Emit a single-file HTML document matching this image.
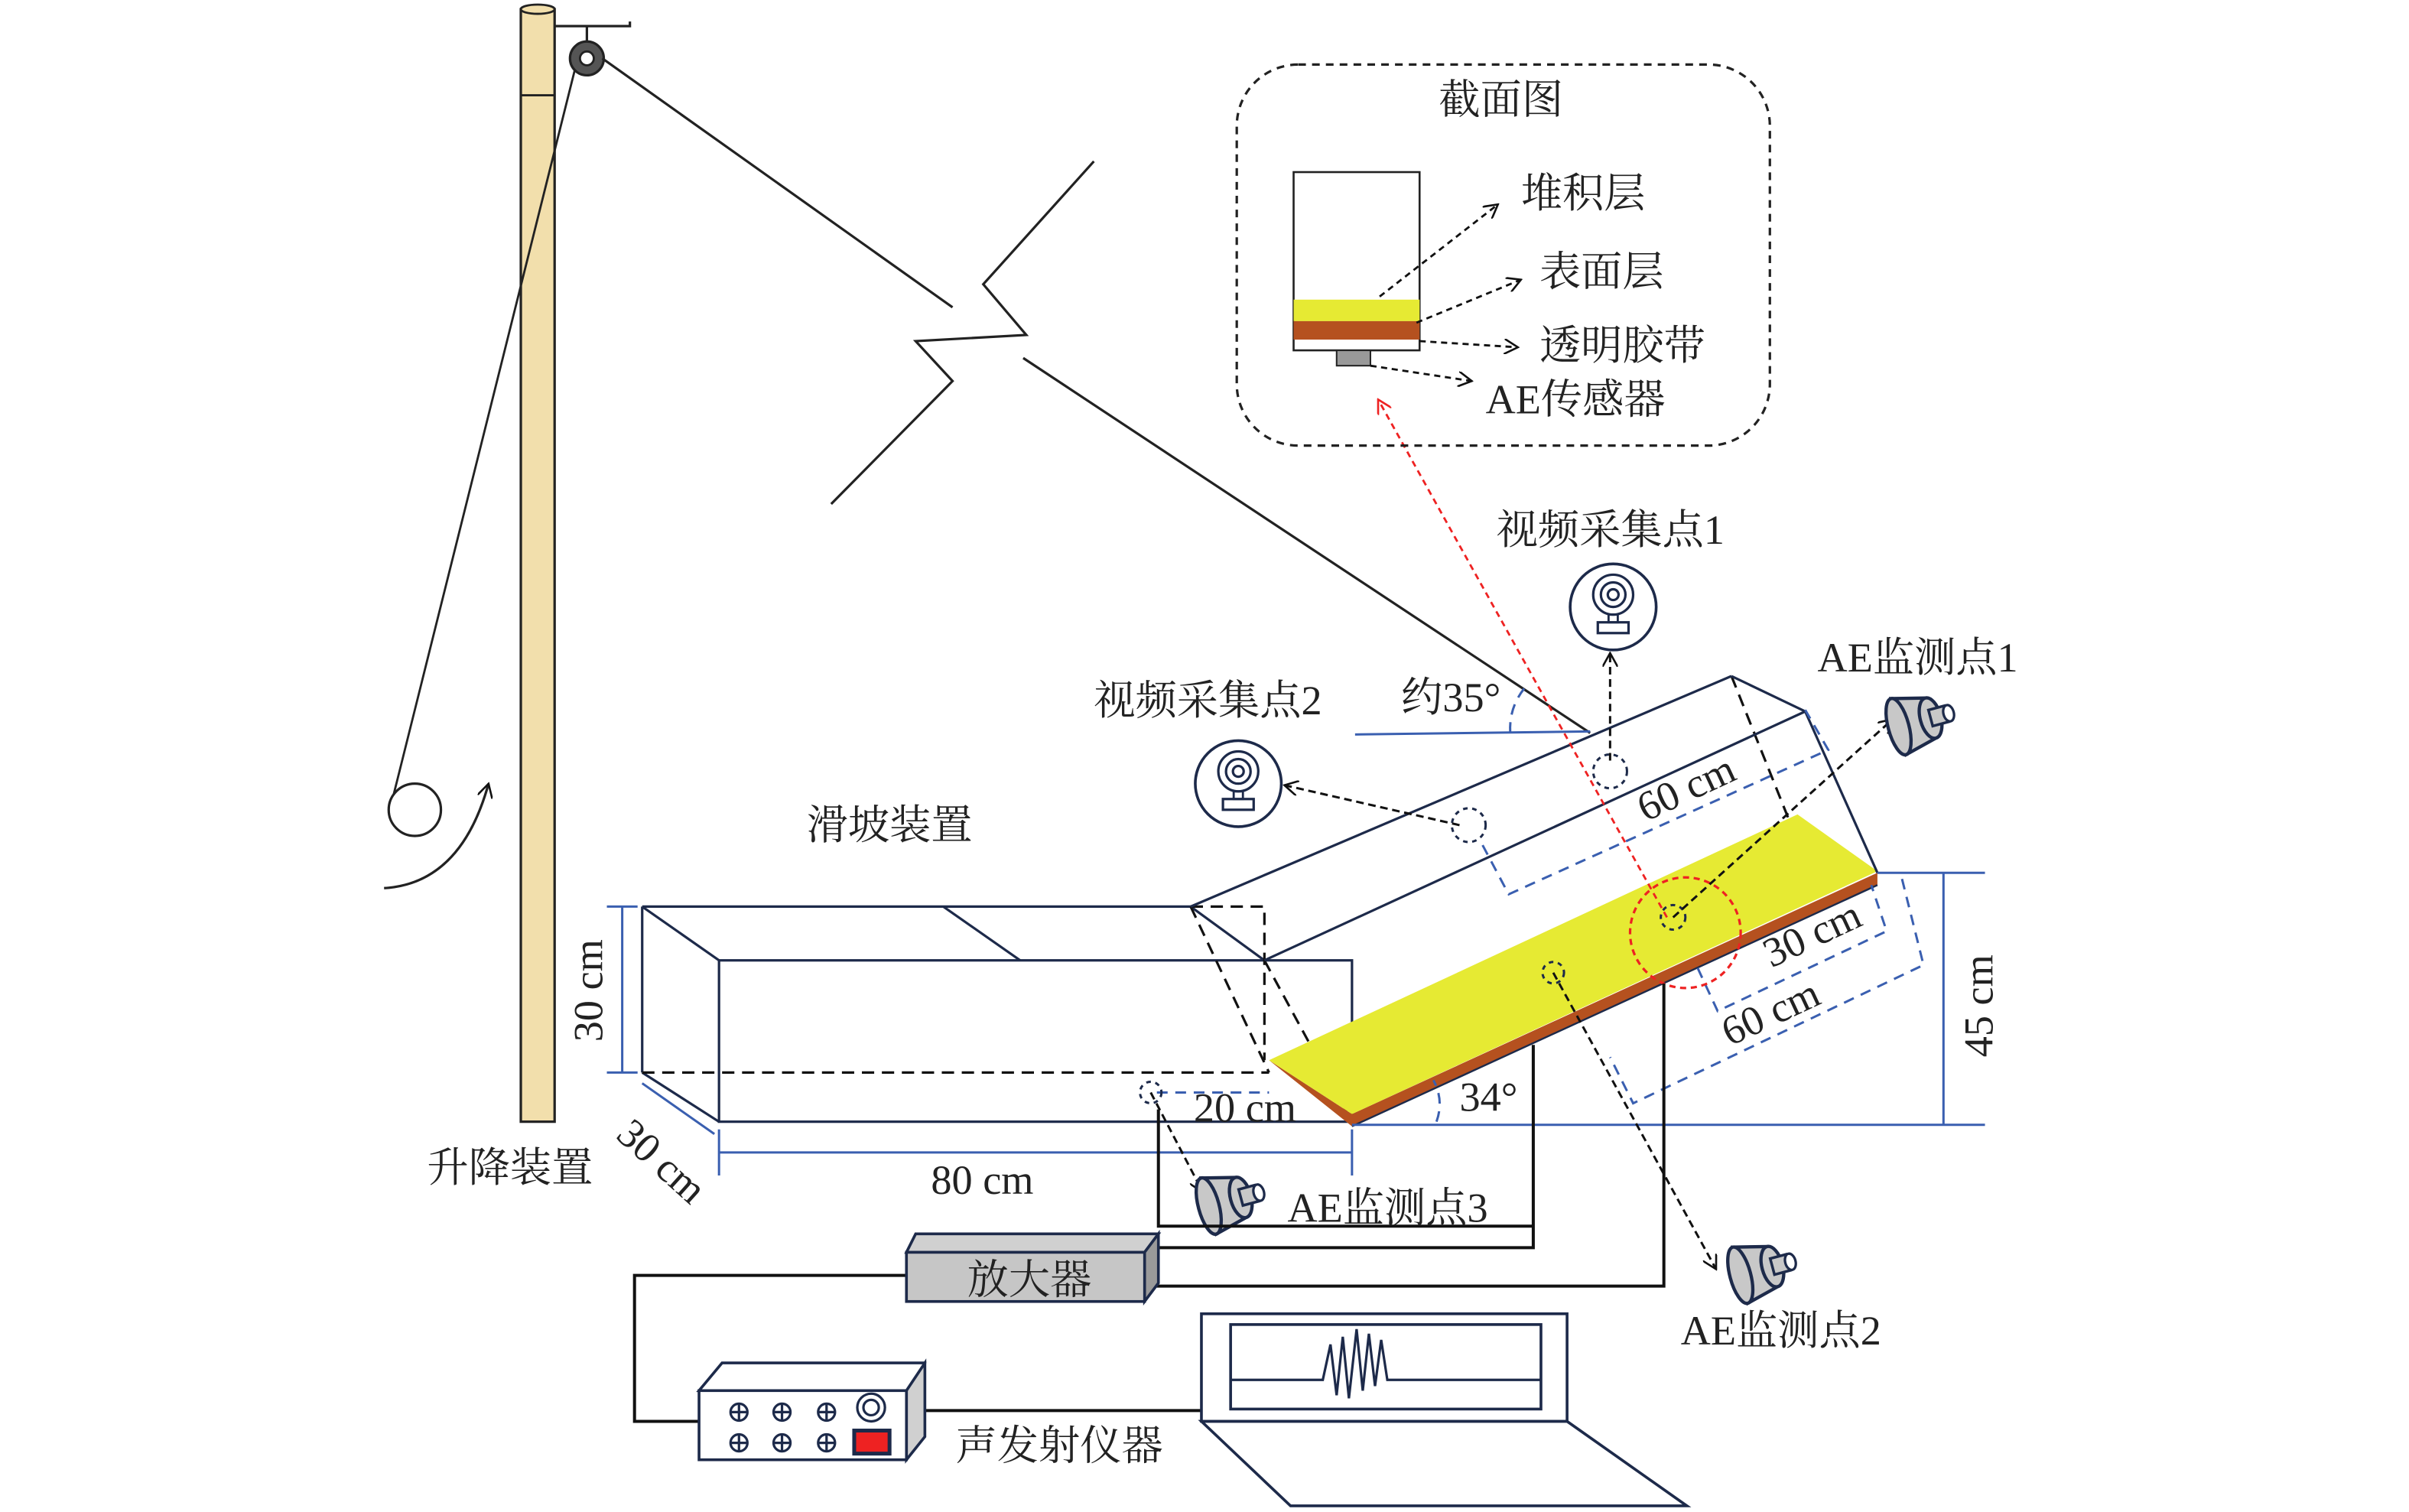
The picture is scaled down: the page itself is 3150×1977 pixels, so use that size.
<!DOCTYPE html>
<html><head><meta charset="utf-8"><style>html,body{margin:0;padding:0;background:#fff}svg{display:block}text{font-family:"Liberation Serif","Noto Serif CJK SC",serif;fill:#222}</style></head><body>
<svg width="3150" height="1977" viewBox="0 0 1568 984" preserveAspectRatio="none" xmlns="http://www.w3.org/2000/svg">
<defs>
<marker id="ab" markerWidth="10" markerHeight="10" refX="9" refY="5" orient="auto" markerUnits="userSpaceOnUse"><path d="M0,0 L9,5 L0,10" fill="none" stroke="#111" stroke-width="1.3"/></marker>
<marker id="ar" markerWidth="10" markerHeight="10" refX="9" refY="5" orient="auto" markerUnits="userSpaceOnUse"><path d="M0,0 L9,5 L0,10" fill="none" stroke="#e22" stroke-width="1.3"/></marker>
<g id="ae"><path d="M-14,-14 L2,-10 L2,10 L-14,14 Z" fill="#c8c8c8" stroke="#1d2a4a" stroke-width="1.6"/><ellipse cx="-14" cy="0" rx="5" ry="14" fill="#c8c8c8" stroke="#1d2a4a" stroke-width="1.6"/><ellipse cx="2" cy="0" rx="5" ry="10" fill="#c8c8c8" stroke="#1d2a4a" stroke-width="1.6"/><rect x="2" y="-4" width="8" height="8" fill="#c8c8c8" stroke="#1d2a4a" stroke-width="1.3"/><ellipse cx="11" cy="0" rx="2.5" ry="4" fill="#fff" stroke="#1d2a4a" stroke-width="1.2"/></g>
<g id="cam"><circle r="28" fill="#fff" stroke="#1d2a4a" stroke-width="1.8"/><circle cy="-8" r="13" fill="none" stroke="#1d2a4a" stroke-width="1.6"/><circle cy="-8" r="8" fill="none" stroke="#1d2a4a" stroke-width="1.6"/><circle cy="-8" r="3.5" fill="none" stroke="#1d2a4a" stroke-width="1.6"/><rect x="-3" y="5" width="6" height="5" fill="none" stroke="#1d2a4a" stroke-width="1.4"/><rect x="-10" y="10" width="20" height="7" fill="none" stroke="#1d2a4a" stroke-width="1.6"/></g>
</defs>
<rect x="339" y="6" width="22" height="724" fill="#f2dfac" stroke="#222" stroke-width="1.6"/>
<ellipse cx="350" cy="6" rx="11" ry="3" fill="#f2dfac" stroke="#222" stroke-width="1.4"/>
<line x1="339" y1="62" x2="361" y2="62" stroke="#222" stroke-width="1.4"/>
<path d="M361,17 L410,17 L410,14" fill="none" stroke="#222" stroke-width="1.6"/>
<line x1="382" y1="17" x2="382" y2="28" stroke="#222" stroke-width="1.6"/>
<circle cx="382" cy="38" r="11" fill="#555" stroke="#222" stroke-width="1.6"/><circle cx="382" cy="38" r="4.5" fill="#fff" stroke="#222" stroke-width="1.4"/>
<line x1="374" y1="46" x2="255" y2="522" stroke="#222" stroke-width="1.4"/>
<circle cx="270" cy="527" r="17" fill="#fff" stroke="#222" stroke-width="1.6"/>
<path d="M250,578 Q300,575 318,510" fill="none" stroke="#222" stroke-width="1.6" marker-end="url(#ab)"/>
<g stroke="#222" stroke-width="1.6" fill="none">
<line x1="392" y1="38" x2="620" y2="200"/>
<polyline points="712,105 640,185 668,218 596,222 620,248 541,328"/>
<line x1="666" y1="233" x2="1035" y2="477"/>
</g>
<g stroke="#1d2a4a" stroke-width="1.6" fill="none">
<line x1="418" y1="590" x2="775" y2="590"/>
<line x1="418" y1="590" x2="468" y2="625"/>
<line x1="418" y1="590" x2="418" y2="698"/>
<line x1="418" y1="698" x2="468" y2="730"/>
<rect x="468" y="625" width="412" height="105"/>
<line x1="614" y1="590" x2="664" y2="625"/>
<line x1="775" y1="590" x2="823" y2="625"/>
</g>
<g stroke="#111" stroke-width="1.6" fill="none" stroke-dasharray="8,5">
<line x1="418" y1="698" x2="826" y2="698"/>
<polyline points="775,590 823,590 823,690"/>
<line x1="775" y1="590" x2="826" y2="698"/>
<line x1="823" y1="625" x2="880" y2="730"/>
<line x1="1127" y1="440" x2="1165" y2="535"/>
</g>
<polygon points="826,690 880,725 1222,568 1222,576 880,733" fill="#b5511f"/>
<polygon points="826,690 1170,530 1222,567 880,725" fill="#e6ea33"/>
<line x1="880" y1="733" x2="1222" y2="576" stroke="#1d2a4a" stroke-width="1.2"/>
<g stroke="#1d2a4a" stroke-width="1.6" fill="none">
<line x1="775" y1="590" x2="1127" y2="440"/>
<line x1="1127" y1="440" x2="1175" y2="463"/>
<line x1="823" y1="625" x2="1175" y2="463"/>
<line x1="1175" y1="463" x2="1222" y2="568"/>
</g>
<g stroke="#3a5fb0" stroke-width="1.5" fill="none">
<line x1="880" y1="732" x2="1292" y2="732"/>
<line x1="1222" y1="568" x2="1292" y2="568"/>
<line x1="1265" y1="568" x2="1265" y2="732"/>
<line x1="882" y1="478" x2="1035" y2="476"/>
<line x1="405" y1="590" x2="405" y2="698"/><line x1="395" y1="590" x2="415" y2="590"/><line x1="395" y1="698" x2="415" y2="698"/>
<line x1="468" y1="750" x2="880" y2="750"/><line x1="468" y1="735" x2="468" y2="765"/><line x1="880" y1="735" x2="880" y2="765"/>
<line x1="418" y1="705" x2="465" y2="738"/>
</g>
<g stroke="#3a5fb0" stroke-width="1.5" fill="none" stroke-dasharray="7,5">
<path d="M935,730 Q940,716 933,703"/>
<path d="M983,477 Q982,460 993,447"/>
<line x1="753" y1="711" x2="826" y2="711"/>
<polyline points="965,550 982,582 1190,488 1175,462"/>
<polyline points="1238,572 1252,628 1063,718 1048,688"/>
<polyline points="1105,630 1118,658 1228,606 1218,576"/>
</g>
<line x1="1085" y1="597" x2="897" y2="260" stroke="#e22" stroke-width="1.4" stroke-dasharray="4,3" marker-end="url(#ar)"/>
<circle cx="1097" cy="607" r="36" fill="none" stroke="#e22" stroke-width="1.6" stroke-dasharray="4,3"/>
<g fill="none" stroke="#1d2a4a" stroke-width="1.5" stroke-dasharray="3,3">
<circle cx="1048" cy="502" r="11"/><circle cx="956" cy="537" r="11"/><circle cx="1089" cy="597" r="8"/><circle cx="1011" cy="633" r="7"/><circle cx="749" cy="711" r="7"/>
</g>
<g fill="none" stroke="#111" stroke-width="1.5" stroke-dasharray="5,3">
<line x1="1048" y1="495" x2="1048" y2="425" marker-end="url(#ab)"/>
<line x1="950" y1="537" x2="836" y2="511" marker-end="url(#ab)"/>
<line x1="1089" y1="597" x2="1232" y2="468" marker-end="url(#ab)"/>
<line x1="1011" y1="633" x2="1117" y2="826" marker-end="url(#ab)"/>
<line x1="749" y1="711" x2="783" y2="776" marker-end="url(#ab)"/>
</g>
<use href="#cam" x="1050" y="395"/><use href="#cam" x="806" y="510"/>
<use href="#ae" transform="translate(1254,468) rotate(-15) scale(1.35)"/>
<use href="#ae" transform="translate(805,780) rotate(-15) scale(1.35)"/>
<use href="#ae" transform="translate(1151,825) rotate(-15) scale(1.35)"/>
<g stroke="#111" stroke-width="2" fill="none">
<polyline points="754,722 754,798 998,798"/>
<polyline points="745,812 998,812 998,680"/>
<polyline points="745,837 1083,837 1083,640"/>
<polyline points="590,830 413,830 413,925 455,925"/>
<line x1="600" y1="918" x2="782" y2="918"/>
</g>
<polygon points="590,815 596,803 754,803 745,815" fill="#d0d0d0" stroke="#1d2a4a" stroke-width="1.8"/>
<polygon points="745,815 754,803 754,835 745,847" fill="#9a9a9a" stroke="#1d2a4a" stroke-width="1.8"/>
<rect x="590" y="815" width="155" height="32" fill="#c6c6c6" stroke="#1d2a4a" stroke-width="1.8"/>
<text x="670" y="842" font-size="27" text-anchor="middle">放大器</text>
<polygon points="455,905 470,887 602,887 600,905" fill="#fff" stroke="#1d2a4a" stroke-width="1.8"/>
<polygon points="590,905 602,887 602,935 590,950" fill="#d0d0d0" stroke="#1d2a4a" stroke-width="1.8"/>
<rect x="455" y="905" width="135" height="45" fill="#fff" stroke="#1d2a4a" stroke-width="1.8"/>
<g fill="none" stroke="#1d2a4a" stroke-width="1.6">
<circle cx="481" cy="919" r="5.5"/><circle cx="509" cy="919" r="5.5"/><circle cx="538" cy="919" r="5.5"/>
<circle cx="481" cy="939" r="5.5"/><circle cx="509" cy="939" r="5.5"/><circle cx="538" cy="939" r="5.5"/>
<path d="M475.5,919h11M481,913.5v11M503.5,919h11M509,913.5v11M532.5,919h11M538,913.5v11M475.5,939h11M481,933.5v11M503.5,939h11M509,933.5v11M532.5,939h11M538,933.5v11"/>
<circle cx="567" cy="916" r="9"/><circle cx="567" cy="916" r="5"/>
</g>
<rect x="556" y="931" width="23" height="15" fill="#e22" stroke="#1d2a4a" stroke-width="2.5"/>
<rect x="782" y="855" width="238" height="70" fill="#fff" stroke="#1d2a4a" stroke-width="1.8"/>
<rect x="801" y="862" width="202" height="55" fill="#fff" stroke="#1d2a4a" stroke-width="1.8"/>
<polyline points="801,898 861,898 866,875 870,908 874,870 878,910 883,865 887,905 891,868 895,902 899,872 903,898 1003,898" fill="none" stroke="#1d2a4a" stroke-width="1.6"/>
<polygon points="782,925 840,980 1098,980 1020,925" fill="none" stroke="#1d2a4a" stroke-width="1.8"/>
<rect x="805" y="42" width="347" height="248" rx="40" fill="none" stroke="#222" stroke-width="1.6" stroke-dasharray="5,4"/>
<rect x="842" y="112" width="82" height="116" fill="#fff" stroke="#222" stroke-width="1.3"/>
<rect x="842" y="195" width="82" height="14" fill="#e6ea33"/>
<rect x="842" y="209" width="82" height="12" fill="#b5511f"/>
<rect x="870" y="228" width="22" height="10" fill="#999" stroke="#222" stroke-width="1"/>
<g fill="none" stroke="#111" stroke-width="1.4" stroke-dasharray="4,3">
<line x1="898" y1="193" x2="975" y2="133" marker-end="url(#ab)"/>
<line x1="922" y1="210" x2="990" y2="182" marker-end="url(#ab)"/>
<line x1="924" y1="222" x2="988" y2="226" marker-end="url(#ab)"/>
<line x1="892" y1="238" x2="958" y2="248" marker-end="url(#ab)"/>
</g>
<g font-size="27">
<text x="977" y="74" text-anchor="middle">截面图</text>
<text x="990" y="135">堆积层</text>
<text x="1002" y="186">表面层</text>
<text x="1002" y="234">透明胶带</text>
<text x="967" y="269">AE传感器</text>
<text x="974" y="354">视频采集点1</text>
<text x="712" y="465">视频采集点2</text>
<text x="912" y="463">约35°</text>
<text x="1183" y="437">AE监测点1</text>
<text x="525" y="546">滑坡装置</text>
<text x="278" y="769">升降装置</text>
<text x="838" y="795">AE监测点3</text>
<text x="1094" y="875">AE监测点2</text>
<text x="622" y="950">声发射仪器</text>
<text x="606" y="777">80 cm</text>
<text x="777" y="730">20 cm</text>
<text x="950" y="723">34°</text>
<text transform="translate(392,678) rotate(-90)">30 cm</text>
<text transform="translate(1297,688) rotate(-90)">45 cm</text>
<text transform="translate(400,740) rotate(42)">30 cm</text>
<text transform="translate(1071,535) rotate(-25)">60 cm</text>
<text transform="translate(1153,630) rotate(-25)">30 cm</text>
<text transform="translate(1126,681) rotate(-25)">60 cm</text>
</g>
</svg>
</body></html>
